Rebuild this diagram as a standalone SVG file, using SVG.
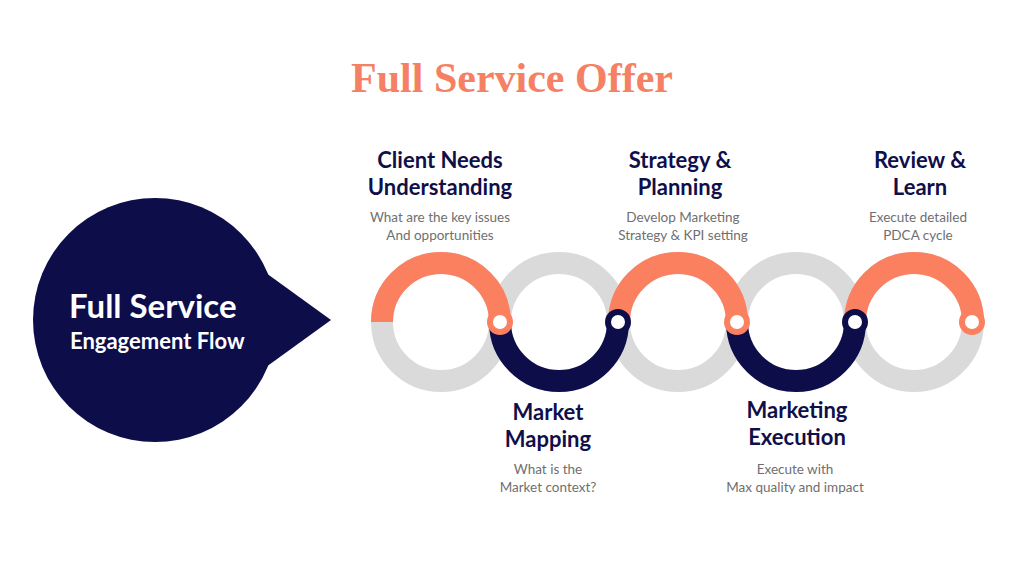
<svg xmlns="http://www.w3.org/2000/svg" width="1024" height="576" viewBox="0 0 1024 576">
<style>
.h{font-family:Lato,"Liberation Sans",sans-serif;font-weight:bold;font-size:22px;fill:#0f0f4a;text-anchor:middle}
.s{font-family:Lato,"Liberation Sans",sans-serif;font-size:13.5px;fill:#6f6f6f;text-anchor:middle}
.g{fill:none;stroke:#dadada;stroke-width:22}
.o{fill:none;stroke:#fa8060;stroke-width:22}
.n{fill:none;stroke:#0d0d4a;stroke-width:22}
.dot{fill:#fff;stroke-width:6}
</style>
<rect width="1024" height="576" fill="#fff"/>
<text x="512" y="92" font-family="'Liberation Serif',serif" font-weight="bold" font-size="42" fill="#f58063" text-anchor="middle">Full Service Offer</text>
<g id="hub">
<circle cx="155" cy="320" r="122" fill="#0d0d4a"/>
<polygon points="255,265 331,320 255,375" fill="#0d0d4a"/>
<text x="69" y="318" font-family="Lato,'Liberation Sans',sans-serif" font-weight="bold" font-size="33" fill="#fff">Full Service</text>
<text x="70" y="349" font-family="Lato,'Liberation Sans',sans-serif" font-weight="bold" font-size="22" fill="#fff">Engagement Flow</text>
</g>
<g id="connectors">
<circle class="g" cx="441" cy="322" r="59"/>
<circle class="g" cx="559" cy="322" r="59"/>
<circle class="g" cx="678" cy="322" r="59"/>
<circle class="g" cx="796" cy="322" r="59"/>
<circle class="g" cx="914" cy="322" r="59"/>
<path class="o" d="M382,322 A59,59 0 0 1 500,322"/>
<path class="n" d="M500,322 A59,59 0 0 0 618,322"/>
<path class="o" d="M619,322 A59,59 0 0 1 737,322"/>
<path class="n" d="M737,322 A59,59 0 0 0 855,322"/>
<path class="o" d="M855,322 A59,59 0 0 1 973,322"/>
<circle class="dot" cx="500" cy="322" r="10" stroke="#fa8060"/>
<circle class="dot" cx="618" cy="322" r="10" stroke="#0d0d4a"/>
<circle class="dot" cx="737" cy="322" r="10" stroke="#fa8060"/>
<circle class="dot" cx="855" cy="322" r="10" stroke="#0d0d4a"/>
<circle class="dot" cx="972" cy="322" r="10" stroke="#fa8060"/>
</g>
<g id="step1"><text class="h" x="440" y="168">Client Needs</text><text class="h" x="440" y="195">Understanding</text><text class="s" x="440" y="222">What are the key issues</text><text class="s" x="440" y="240">And opportunities</text></g>
<g id="step2"><text class="h" x="548" y="420">Market</text><text class="h" x="548" y="447">Mapping</text><text class="s" x="548" y="474">What is the</text><text class="s" x="548" y="492">Market context?</text></g>
<g id="step3"><text class="h" x="680" y="168">Strategy &amp;</text><text class="h" x="680" y="195">Planning</text><text class="s" x="683" y="222">Develop Marketing</text><text class="s" x="683" y="240">Strategy &amp; KPI setting</text></g>
<g id="step4"><text class="h" x="797" y="418">Marketing</text><text class="h" x="797" y="445">Execution</text><text class="s" x="795" y="474">Execute with</text><text class="s" x="795" y="492">Max quality and impact</text></g>
<g id="step5"><text class="h" x="920" y="168">Review &amp;</text><text class="h" x="920" y="195">Learn</text><text class="s" x="918" y="222">Execute detailed</text><text class="s" x="918" y="240">PDCA cycle</text></g>
</svg>
